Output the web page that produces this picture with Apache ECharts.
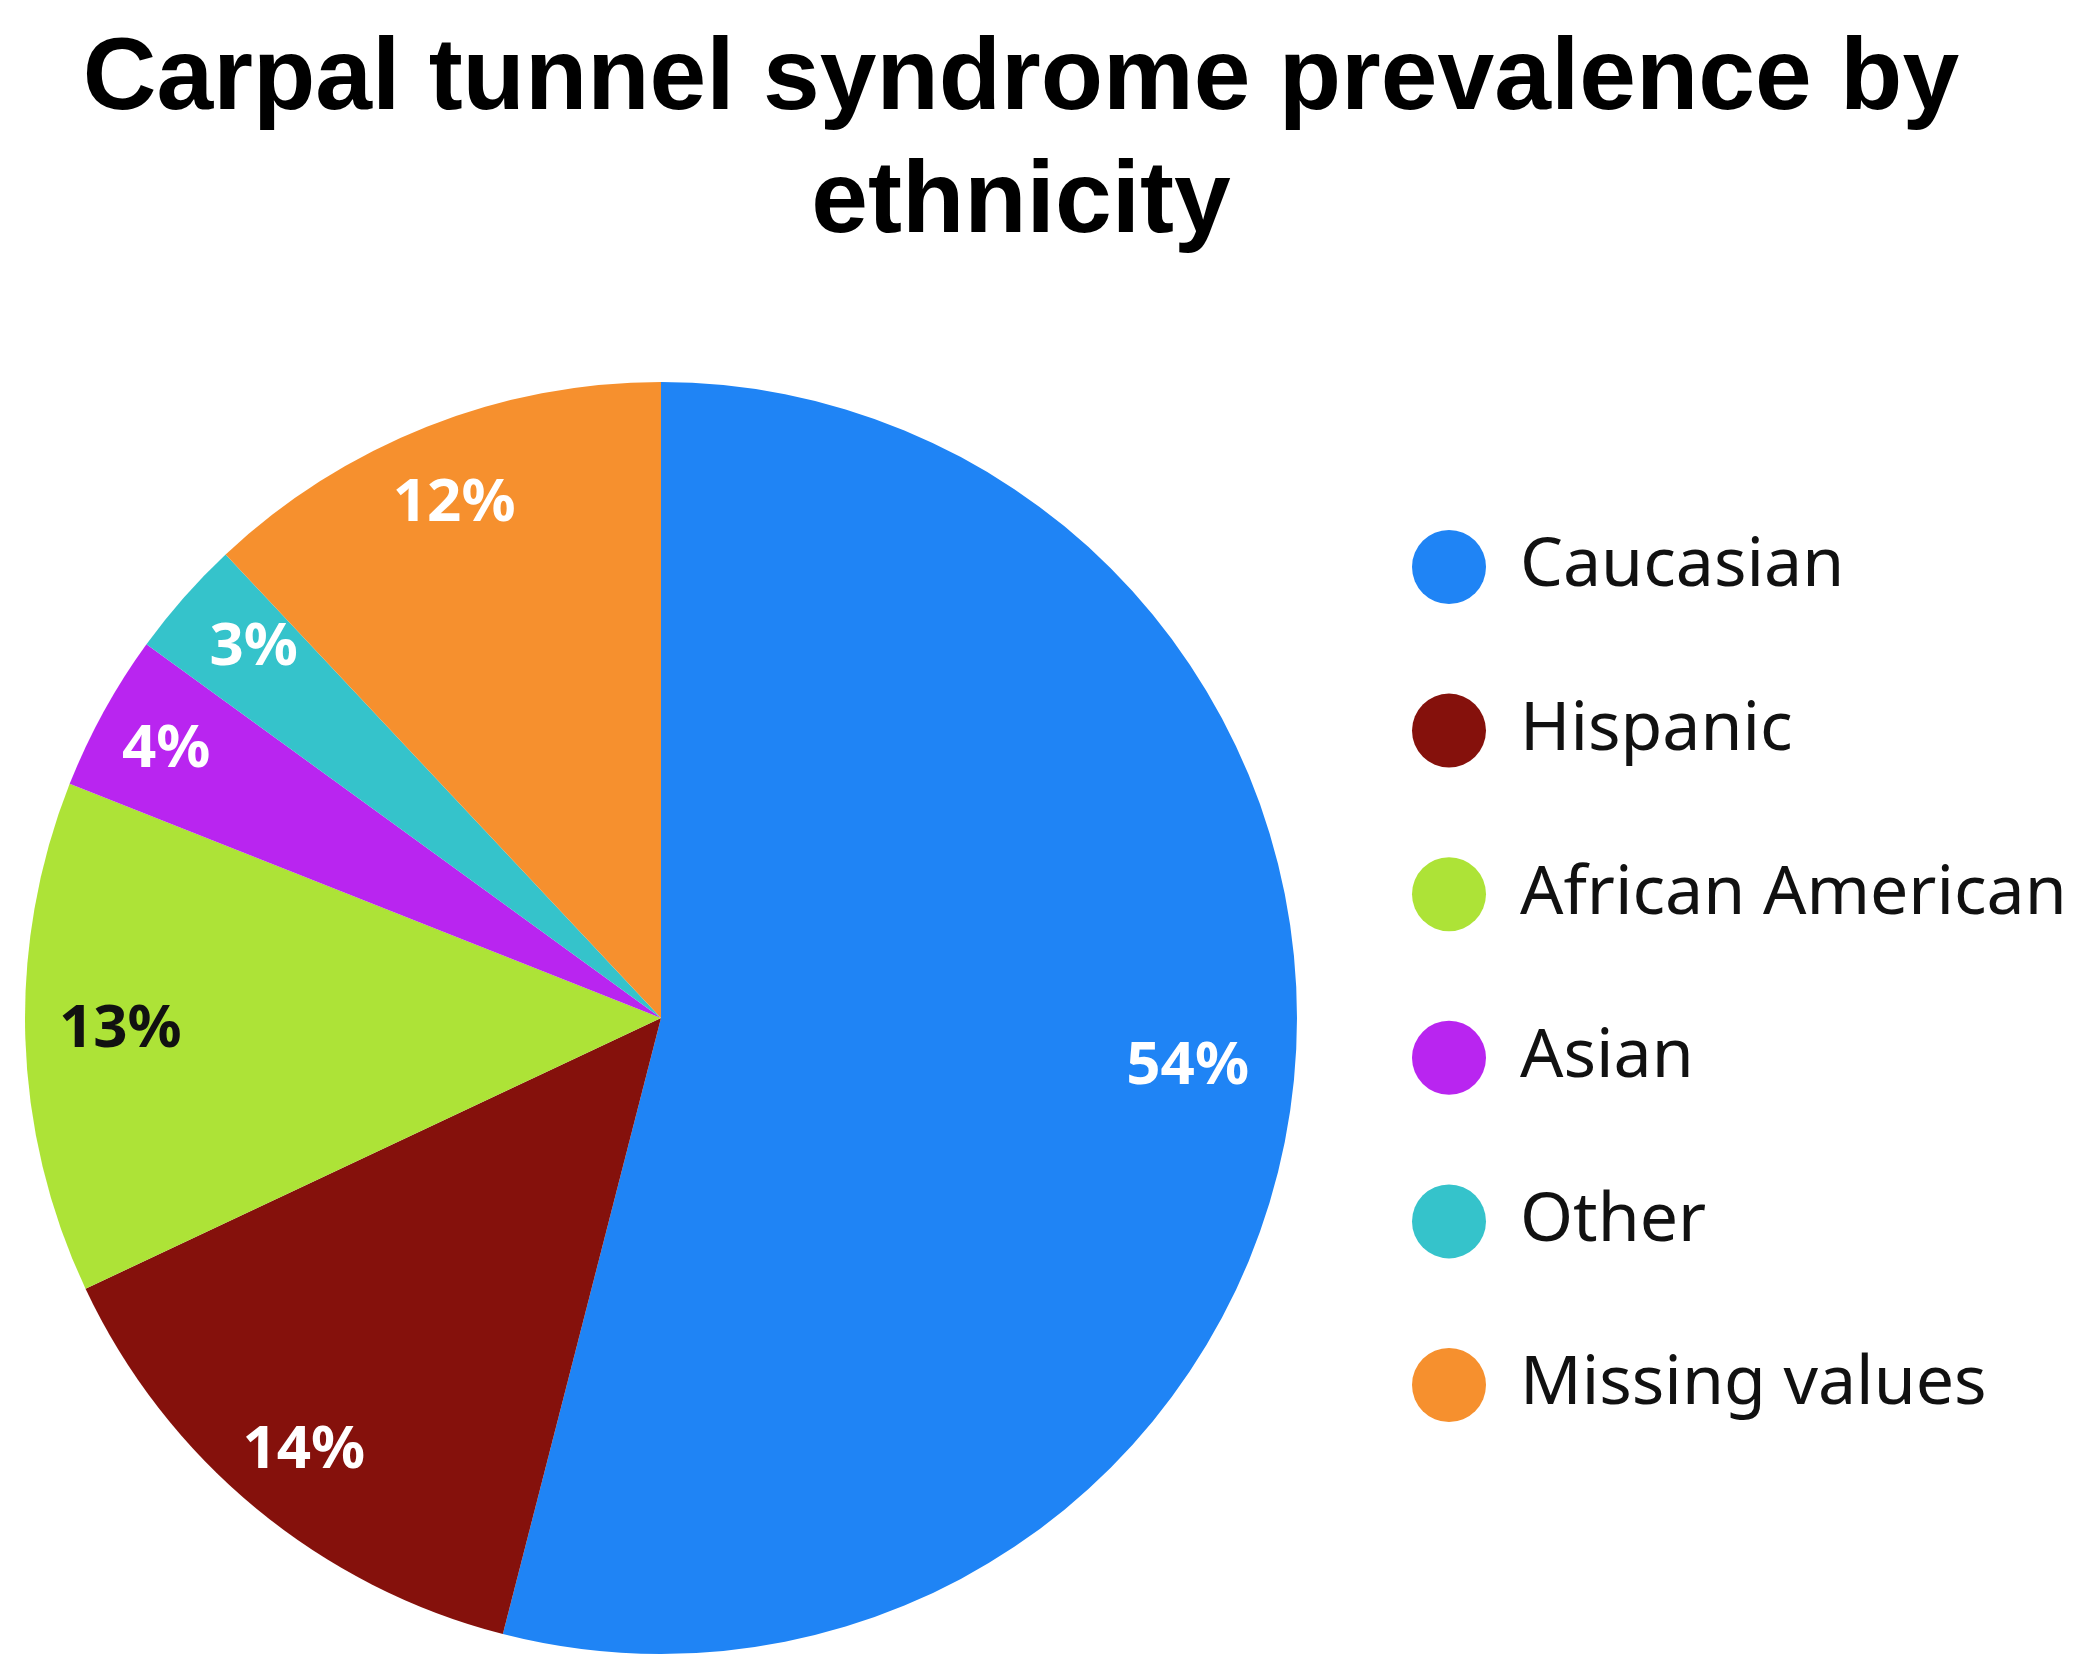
<!DOCTYPE html>
<html>
<head>
<meta charset="utf-8">
<style>
  html, body { margin: 0; padding: 0; background: #ffffff; }
  #chart { width: 2089px; height: 1679px; }
</style>
<script src="https://cdn.jsdelivr.net/npm/echarts@6/dist/echarts.min.js"></script>
</head>
<body>
<div id="chart"></div>
<script>
const titleText = 'Carpal tunnel syndrome prevalence by\nethnicity';
const categories = ['Caucasian', 'Hispanic', 'African American', 'Asian', 'Other', 'Missing values'];
const values = [54, 14, 13, 4, 3, 12];
const colors = ['#1f84f5', '#85110c', '#ade337', '#b925f0', '#35c3cb', '#f6902e'];
const labelColors = ['#ffffff', '#ffffff', '#111111', '#ffffff', '#ffffff', '#ffffff'];
const labelOffsets = [[-20, -20], [-6, 8], [10, -5], [-12, -3], [6, -6], [-4, -2]];

const chart = echarts.init(document.getElementById('chart'), null, { renderer: 'canvas' });

const mainData = categories.map((name, i) => ({
  name: name,
  value: values[i],
  itemStyle: { color: colors[i] }
}));
const labelData = categories.map((name, i) => ({
  name: name,
  value: values[i],
  itemStyle: { color: 'rgba(0,0,0,0)' },
  label: { color: labelColors[i], offset: labelOffsets[i] }
}));

const option = {
  backgroundColor: '#ffffff',
  animation: false,
  title: {
    text: titleText,
    left: 1021,
    top: 19,
    padding: 0,
    textAlign: 'center',
    textStyle: {
      fontFamily: 'Liberation Sans',
      fontWeight: 'bold',
      fontSize: 102,
      lineHeight: 123,
      color: '#000000'
    }
  },
  legend: {
    orient: 'vertical',
    left: 1412,
    top: 530,
    padding: 0,
    itemWidth: 74,
    itemHeight: 74,
    itemGap: 89.6,
    icon: 'circle',
    data: categories,
    textStyle: {
      fontFamily: 'Noto Sans',
      fontSize: 68,
      lineHeight: 74,
      color: '#111111',
      padding: [0, 0, 0, 29]
    }
  },
  series: [
    {
      type: 'pie',
      center: [661, 1018],
      radius: [0, 636],
      startAngle: 90,
      clockwise: true,
      label: { show: false },
      labelLine: { show: false },
      itemStyle: { borderWidth: 0 },
      data: mainData
    },
    {
      type: 'pie',
      center: [661, 1018],
      radius: [0, 1096],
      startAngle: 90,
      clockwise: true,
      silent: true,
      legendHoverLink: false,
      label: {
        show: true,
        position: 'inside',
        formatter: '{c}%',
        fontFamily: 'Noto Sans',
        fontWeight: 'bold',
        fontSize: 60
      },
      labelLine: { show: false },
      itemStyle: { borderWidth: 0 },
      data: labelData
    }
  ]
};

chart.setOption(option);
</script>
</body>
</html>
